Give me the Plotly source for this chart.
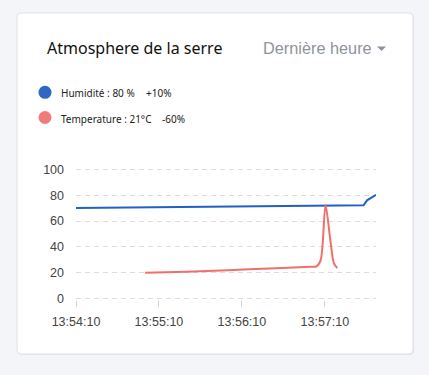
import plotly.graph_objects as go

DAY = "2024-01-01 "
hum_times = ["13:54:10", "13:55:10", "13:56:10", "13:57:10", "13:57:38", "13:57:40.5", "13:57:44", "13:57:47"]
hum_values = [70, 70.5, 71, 71.8, 72.2, 76, 78.2, 80.2]
temp_times = ["13:55:00", "13:55:30", "13:56:00", "13:56:30", "13:57:00", "13:57:04", "13:57:07",
              "13:57:10.5", "13:57:14", "13:57:16.5", "13:57:19"]
temp_values = [20, 20.8, 22, 23.4, 24.7, 25, 29.8, 72.3, 45, 27.5, 23.6]
x_tick_labels = ["13:54:10", "13:55:10", "13:56:10", "13:57:10"]
y_ticks = [0, 20, 40, 60, 80, 100]

W, H = 429, 375
L, R, T, B = 76, 376, 168, 300

def fx(px):
    return (px - L) / (R - L)

def fy(py):
    return (B - py) / (B - T)

BLUE = "#2160c4"
RED = "#ef6f6c"

fig = go.Figure()
fig.add_trace(go.Scatter(x=[DAY + t for t in hum_times], y=hum_values, mode="lines",
                         line=dict(color=BLUE, width=2), hoverinfo="skip"))
fig.add_trace(go.Scatter(x=[DAY + t for t in temp_times], y=temp_values, mode="lines",
                         line=dict(color=RED, width=2, shape="spline", smoothing=0.8), hoverinfo="skip"))

def P(px, py):
    return f"{fx(px)},{fy(py)}"

def rrect(x0, y0, x1, y1, r):
    return (f"M {P(x0+r, y0)} L {P(x1-r, y0)} Q {P(x1, y0)} {P(x1, y0+r)} "
            f"L {P(x1, y1-r)} Q {P(x1, y1)} {P(x1-r, y1)} L {P(x0+r, y1)} "
            f"Q {P(x0, y1)} {P(x0, y1-r)} L {P(x0, y0+r)} Q {P(x0, y0)} {P(x0+r, y0)} Z")

cx0, cy0, cx1, cy1, r = 17, 13, 413, 354, 4
shapes = [
    dict(type="path", xref="paper", yref="paper", path=rrect(cx0+1, cy0+1, cx1+1, cy1+1, r),
         fillcolor="#e4e6ec", line=dict(width=0), layer="below"),
    dict(type="path", xref="paper", yref="paper", path=rrect(cx0, cy0, cx1, cy1, r), fillcolor="white",
         line=dict(color="#dfe2e8", width=1), layer="below"),
    dict(type="circle", xref="paper", yref="paper", x0=fx(45-6.5), x1=fx(45+6.5),
         y0=fy(92.3+6.5), y1=fy(92.3-6.5), fillcolor="#3065c2", line=dict(width=0)),
    dict(type="circle", xref="paper", yref="paper", x0=fx(45-6.5), x1=fx(45+6.5),
         y0=fy(117.5+6.5), y1=fy(117.5-6.5), fillcolor="#f07c7a", line=dict(width=0)),
    dict(type="path", xref="paper", yref="paper",
         path=f"M {P(377, 46.5)} L {P(386, 46.5)} L {P(381.5, 51)} Z",
         fillcolor="#8e929c", line=dict(width=0)),
]

def ann(text, px, py, size, color, family="Noto Sans"):
    return dict(text=text, x=fx(px), y=fy(py), xref="paper", yref="paper", xanchor="left",
                yanchor="middle", showarrow=False, font=dict(size=size, color=color, family=family))

annotations = [
    ann("Atmosphere de la serre", 45, 48, 16, "#111111"),
    ann("Dernière heure", 261, 48, 16.3, "#8f939d", "Liberation Sans"),
    ann("Humidité : 80 %", 59, 92.5, 10, "#222222"),
    ann("+10%", 144, 92.5, 10, "#222222"),
    ann("Temperature : 21°C", 59, 118.5, 10, "#222222"),
    ann("-60%", 159.5, 118.5, 10, "#222222"),
]

fig.update_layout(
    width=W, height=H, margin=dict(l=L, r=W - R, t=T, b=H - B, pad=0),
    paper_bgcolor="#f4f5f9", plot_bgcolor="rgba(0,0,0,0)", showlegend=False,
    shapes=shapes, annotations=annotations,
    xaxis=dict(type="date", range=[DAY + "13:54:10", DAY + "13:57:47"],
               tickvals=[DAY + t for t in x_tick_labels], ticktext=x_tick_labels,
               showgrid=False, zeroline=False, showline=False,
               ticks="outside", ticklen=6, tickcolor="#d0d0d0", tickwidth=1,
               tickfont=dict(family="Liberation Sans", size=12.5, color="#444444"),
               ticklabelstandoff=4, fixedrange=True),
    yaxis=dict(range=[-1, 101], tickvals=y_ticks, ticktext=[str(v) for v in y_ticks],
               showgrid=True, gridcolor="#dcdcdc", griddash="5px,4px", gridwidth=1,
               zeroline=False, showline=False, ticks="",
               tickfont=dict(family="Liberation Sans", size=12.5, color="#444444"),
               ticklabelstandoff=11, fixedrange=True),
)

fig.write_html("out.html")
